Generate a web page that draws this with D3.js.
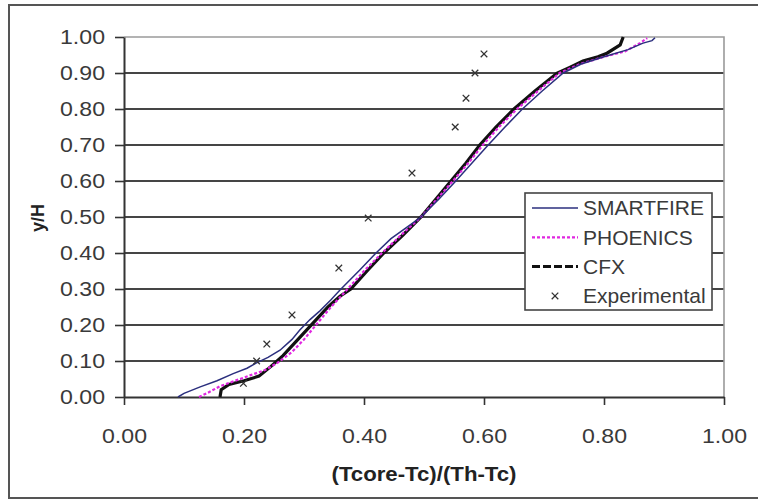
<!DOCTYPE html>
<html>
<head>
<meta charset="utf-8">
<script src="https://cdn.jsdelivr.net/npm/d3@7"></script>
<style>
  body { margin: 0; background: #fff; }
  svg { display: block; font-family: "Liberation Sans", Arial, sans-serif; }
</style>
</head>
<body>
<svg id="chart" width="758" height="501"></svg>
<script>
// Core temperature profiles as [x, y/H] pairs
var smartfire = [
  [0.090, 0.000], [0.100, 0.010], [0.127, 0.028], [0.155, 0.045], [0.182, 0.065],
  [0.205, 0.080], [0.220, 0.094], [0.240, 0.110], [0.260, 0.130], [0.280, 0.160],
  [0.293, 0.186], [0.310, 0.215], [0.327, 0.240], [0.345, 0.270], [0.360, 0.297],
  [0.393, 0.353], [0.420, 0.400], [0.445, 0.440], [0.470, 0.470], [0.495, 0.500],
  [0.525, 0.550], [0.553, 0.600], [0.580, 0.650], [0.607, 0.700], [0.635, 0.750],
  [0.664, 0.800], [0.697, 0.850], [0.732, 0.900], [0.762, 0.925], [0.800, 0.945],
  [0.840, 0.965], [0.865, 0.983], [0.880, 0.990], [0.885, 0.998]
];
var phoenics = [
  [0.125, 0.000], [0.140, 0.012], [0.160, 0.030], [0.185, 0.045], [0.210, 0.060],
  [0.235, 0.075], [0.255, 0.094], [0.280, 0.125], [0.300, 0.160], [0.320, 0.200],
  [0.345, 0.250], [0.370, 0.295], [0.400, 0.350], [0.430, 0.400], [0.462, 0.450],
  [0.495, 0.500], [0.522, 0.550], [0.548, 0.600], [0.574, 0.650], [0.598, 0.700],
  [0.625, 0.750], [0.655, 0.800], [0.690, 0.850], [0.726, 0.900], [0.760, 0.925],
  [0.800, 0.945], [0.835, 0.960], [0.860, 0.983], [0.872, 0.997]
];
var cfx = [
  [0.160, 0.000], [0.162, 0.020], [0.175, 0.035], [0.200, 0.045], [0.225, 0.058],
  [0.245, 0.085], [0.265, 0.115], [0.290, 0.160], [0.315, 0.205], [0.340, 0.250],
  [0.360, 0.280], [0.378, 0.300], [0.405, 0.350], [0.433, 0.400], [0.465, 0.450],
  [0.495, 0.500], [0.520, 0.550], [0.545, 0.600], [0.570, 0.650], [0.593, 0.700],
  [0.620, 0.750], [0.650, 0.800], [0.685, 0.850], [0.722, 0.900], [0.742, 0.915],
  [0.765, 0.933], [0.790, 0.945], [0.805, 0.955], [0.827, 0.978], [0.832, 1.000]
];
var experimental = [
  [0.600, 0.953], [0.585, 0.900], [0.570, 0.830], [0.552, 0.750], [0.480, 0.622],
  [0.407, 0.497], [0.358, 0.358], [0.280, 0.228], [0.238, 0.147], [0.221, 0.100],
  [0.199, 0.038]
];
var xTicks = [0, 0.2, 0.4, 0.6, 0.8, 1.0];
var yTicks = [0, 0.1, 0.2, 0.3, 0.4, 0.5, 0.6, 0.7, 0.8, 0.9, 1.0];
var seriesNames = ['SMARTFIRE', 'PHOENICS', 'CFX', 'Experimental'];

(function () {
  'use strict';

  var svg = d3.select('#chart');
  var x = d3.scaleLinear().domain([0, 1]).range([124, 724]);
  var y = d3.scaleLinear().domain([0, 1]).range([397, 37]);
  var fmt = d3.format('.2f');

  // outer frame
  svg.append('rect')
    .attr('x', 9).attr('y', 5)
    .attr('width', 800).attr('height', 493)
    .attr('fill', '#fff')
    .attr('stroke', '#555')
    .attr('stroke-width', 2);

  // gridlines
  svg.append('g')
    .selectAll('line')
    .data(yTicks.slice(1, -1))
    .enter()
    .append('line')
    .attr('x1', x(0)).attr('x2', x(1))
    .attr('y1', function (d) { return y(d); })
    .attr('y2', function (d) { return y(d); })
    .attr('stroke', '#454545')
    .attr('stroke-width', 1.8);

  // plot area top / right border
  svg.append('path')
    .attr('d', 'M' + x(0) + ',' + y(1) + 'H' + x(1) + 'V' + y(0))
    .attr('fill', 'none')
    .attr('stroke', '#9a9a9a')
    .attr('stroke-width', 1.6);

  // axes
  var yAxis = svg.append('g')
    .attr('transform', 'translate(' + x(0) + ',0)')
    .call(d3.axisLeft(y).tickValues(yTicks).tickFormat(fmt).tickSize(9).tickSizeOuter(0).tickPadding(10));
  var xAxis = svg.append('g')
    .attr('transform', 'translate(0,' + y(0) + ')')
    .call(d3.axisBottom(x).tickValues(xTicks).tickFormat(fmt).tickSize(8).tickSizeOuter(0).tickPadding(24));

  // the source figure is stretched a little sideways, so labels get a fixed width
  [yAxis, xAxis].forEach(function (ax) {
    ax.select('.domain').attr('stroke', '#333').attr('stroke-width', 2);
    ax.selectAll('.tick line').attr('stroke', '#333').attr('stroke-width', 1.6);
    ax.selectAll('.tick text')
      .attr('fill', '#3a3a3a')
      .attr('textLength', 45)
      .attr('lengthAdjust', 'spacingAndGlyphs')
      .style('font-size', '20px')
      .style('font-family', '"Liberation Sans", Arial, sans-serif');
  });

  // curves
  var line = d3.line()
    .x(function (d) { return x(d[0]); })
    .y(function (d) { return y(d[1]); });

  svg.append('path')
    .datum(cfx)
    .attr('d', line)
    .attr('fill', 'none')
    .attr('stroke', '#111')
    .attr('stroke-width', 3.2);

  svg.append('path')
    .datum(phoenics)
    .attr('d', line)
    .attr('fill', 'none')
    .attr('stroke', '#e026e0')
    .attr('stroke-width', 2.2)
    .attr('stroke-dasharray', '3,2');

  svg.append('path')
    .datum(smartfire)
    .attr('d', line)
    .attr('fill', 'none')
    .attr('stroke', '#2b2f7e')
    .attr('stroke-width', 1.5);

  var cross = d3.symbol().type(d3.symbolX).size(30);
  svg.append('g')
    .selectAll('path')
    .data(experimental)
    .enter()
    .append('path')
    .attr('transform', function (d) { return 'translate(' + x(d[0]) + ',' + y(d[1]) + ')'; })
    .attr('d', cross)
    .attr('fill', 'none')
    .attr('stroke', '#333')
    .attr('stroke-width', 1.3);

  // legend
  var legend = svg.append('g').attr('transform', 'translate(525,193)');
  legend.append('rect')
    .attr('width', 187).attr('height', 117)
    .attr('fill', '#fff')
    .attr('stroke', '#444')
    .attr('stroke-width', 1.6);

  var styles = [
    { stroke: '#2b2f7e', width: 1.5, dash: null },
    { stroke: '#e026e0', width: 2.2, dash: '3,2' },
    { stroke: '#111', width: 3, dash: '8,3' },
    null
  ];
  seriesNames.forEach(function (name, i) {
    var cy = 15 + i * 29.3;
    var s = styles[i];
    if (s) {
      legend.append('line')
        .attr('x1', 7).attr('x2', 53)
        .attr('y1', cy).attr('y2', cy)
        .attr('stroke', s.stroke)
        .attr('stroke-width', s.width)
        .attr('stroke-dasharray', s.dash);
    } else {
      legend.append('path')
        .attr('transform', 'translate(30,' + cy + ')')
        .attr('d', cross)
        .attr('fill', 'none')
        .attr('stroke', '#333')
        .attr('stroke-width', 1.3);
    }
    legend.append('text')
      .attr('x', 58).attr('y', cy)
      .attr('dy', '0.35em')
      .style('font-size', '21px')
      .attr('fill', '#3a3a3a')
      .text(name);
  });

  // axis titles
  svg.append('text')
    .attr('transform', 'translate(38,218) rotate(-90)')
    .attr('text-anchor', 'middle')
    .attr('dy', '0.35em')
    .style('font-size', '18px')
    .style('font-weight', 'bold')
    .attr('fill', '#222')
    .text('y/H');

  svg.append('text')
    .attr('x', 424).attr('y', 481)
    .attr('text-anchor', 'middle')
    .attr('textLength', 185)
    .attr('lengthAdjust', 'spacingAndGlyphs')
    .style('font-size', '20px')
    .style('font-weight', 'bold')
    .attr('fill', '#222')
    .text('(Tcore-Tc)/(Th-Tc)');
})();
</script>
</body>
</html>
